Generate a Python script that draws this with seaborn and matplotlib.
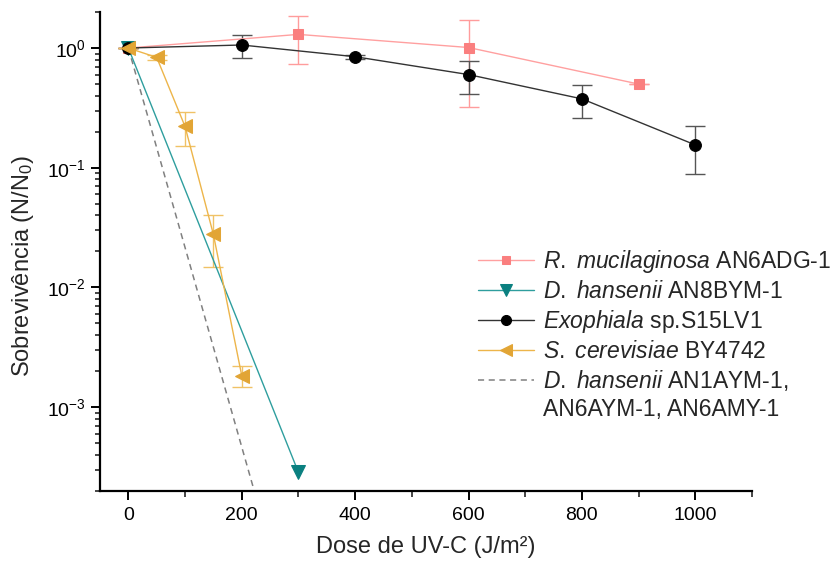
import numpy as np
import matplotlib
matplotlib.use("Agg")
import matplotlib.pyplot as plt
from matplotlib.lines import Line2D
from matplotlib.ticker import MultipleLocator, NullFormatter, LogLocator
import seaborn as sns

# series values
rm_dose = [0, 300, 600, 900]
rm_surv = [1.0, 1.30, 1.01, 0.50]
rm_low = [1.0, 0.73, 0.32, 0.50]
rm_high = [1.0, 1.85, 1.73, 0.50]

dh8_dose = [0, 300]
dh8_surv = [1.0, 2.85e-4]

ex_dose = [0, 200, 400, 600, 800, 1000]
ex_surv = [1.0, 1.06, 0.846, 0.60, 0.376, 0.155]
ex_low = [1.0, 0.82, 0.81, 0.41, 0.261, 0.0885]
ex_high = [1.0, 1.28, 0.88, 0.78, 0.488, 0.222]

sc_dose = [0, 50, 100, 150, 200]
sc_surv = [1.0, 0.835, 0.221, 0.0277, 1.83e-3]
sc_low = [1.0, 0.80, 0.153, 0.0149, 1.47e-3]
sc_high = [1.0, 0.87, 0.29, 0.040, 2.21e-3]

dh_other_dose = [0, 300]
dh_other_surv = [1.0, 1e-5]

labels = [
    r"$\it{R.}$ $\it{mucilaginosa}$ AN6ADG-1",
    r"$\it{D.}$ $\it{hansenii}$ AN8BYM-1",
    r"$\it{Exophiala}$ sp.S15LV1",
    r"$\it{S.}$ $\it{cerevisiae}$ BY4742",
    r"$\it{D.}$ $\it{hansenii}$ AN1AYM-1,",
]
label_cont = "AN6AYM-1, AN6AMY-1"

sns.set_theme(style="ticks")
plt.rcParams['font.family'] = ['Liberation Sans', 'DejaVu Sans']
plt.rcParams['mathtext.fontset'] = 'custom'
plt.rcParams['mathtext.rm'] = 'Liberation Sans'
plt.rcParams['mathtext.it'] = 'Liberation Sans:italic'

fig = plt.figure(figsize=(8.36, 5.70), dpi=100)
ax = fig.add_axes([100 / 836, 1 - 490.7 / 570, 652 / 836, 478.7 / 570])

red = "#FA7F7F"
teal = "#0A8080"
gold = "#E2A535"

sns.lineplot(x=dh_other_dose, y=dh_other_surv, ax=ax, color="#808080", linestyle=(0, (4, 3)),
             linewidth=1.1, label=labels[4], sort=False)
sns.lineplot(x=rm_dose, y=rm_surv, ax=ax, color="#FFA0A0", linewidth=1.0, marker="s", markersize=7.5,
             markerfacecolor=red, markeredgecolor=red, label=labels[0], sort=False)
sns.lineplot(x=dh8_dose, y=dh8_surv, ax=ax, color="#2E9E9E", linewidth=1.0, marker="v", markersize=9.5,
             markerfacecolor=teal, markeredgecolor=teal, label=labels[1], sort=False)
sns.lineplot(x=ex_dose, y=ex_surv, ax=ax, color="#333333", linewidth=1.0, marker="o", markersize=8.5,
             markerfacecolor="black", markeredgecolor="black", label=labels[2], sort=False)
sns.lineplot(x=sc_dose, y=sc_surv, ax=ax, color="#EDB54A", linewidth=1.0, marker="<", markersize=9.5,
             markerfacecolor=gold, markeredgecolor=gold, label=labels[3], sort=False)

def err(ax, x, y, lo, hi, c):
    y = np.array(y); lo = np.array(lo); hi = np.array(hi)
    ax.errorbar(x, y, yerr=[y - lo, hi - y], fmt='none', ecolor=c, elinewidth=1.0,
                capsize=7, capthick=1.0, zorder=1)

err(ax, rm_dose, rm_surv, rm_low, rm_high, "#FF9C9C")
err(ax, ex_dose, ex_surv, ex_low, ex_high, "#555555")
err(ax, sc_dose, sc_surv, sc_low, sc_high, "#F0C266")

ax.set_yscale('log')
ax.set_xlim(-50, 1100)
ax.set_ylim(2e-4, 2)
ax.xaxis.set_major_locator(MultipleLocator(200))
ax.xaxis.set_minor_locator(MultipleLocator(100))
ax.yaxis.set_major_locator(LogLocator(base=10, numticks=10))
ax.yaxis.set_minor_locator(LogLocator(base=10, subs=np.arange(2, 10), numticks=20))
ax.yaxis.set_minor_formatter(NullFormatter())

sns.despine(ax=ax)
for s in ['left', 'bottom']:
    ax.spines[s].set_linewidth(1.6)
    ax.spines[s].set_color('black')
ax.tick_params(which='major', direction='out', length=6.5, width=1.4, labelsize=14, colors='black', pad=5)
ax.tick_params(which='minor', direction='out', length=3.5, width=1.2)
ax.tick_params(axis='x', which='minor', length=4.5)
ax.tick_params(axis='y', which='major', pad=4)

ax.set_xlabel("Dose de UV-C (J/m²)", fontsize=17, labelpad=9)
ax.set_ylabel("Sobrevivência (N/N$_0$)", fontsize=17)
ax.yaxis.set_label_coords(-0.098, 0.47)

handles, labs = ax.get_legend_handles_labels()
order = [1, 2, 3, 4, 0]
blank = Line2D([], [], linestyle='none', marker=None)
leg = fig.legend([handles[i] for i in order] + [blank], [labs[i] for i in order] + [label_cont],
                 loc='upper left', bbox_to_anchor=(478 / 836, 1 - 248 / 570),
                 frameon=False, fontsize=16.5, handlelength=2.45, handletextpad=0.4,
                 labelspacing=0.22, borderpad=0, borderaxespad=0, markerscale=0.85)
if ax.get_legend():
    ax.get_legend().remove()

plt.savefig("out.png", dpi=100)
